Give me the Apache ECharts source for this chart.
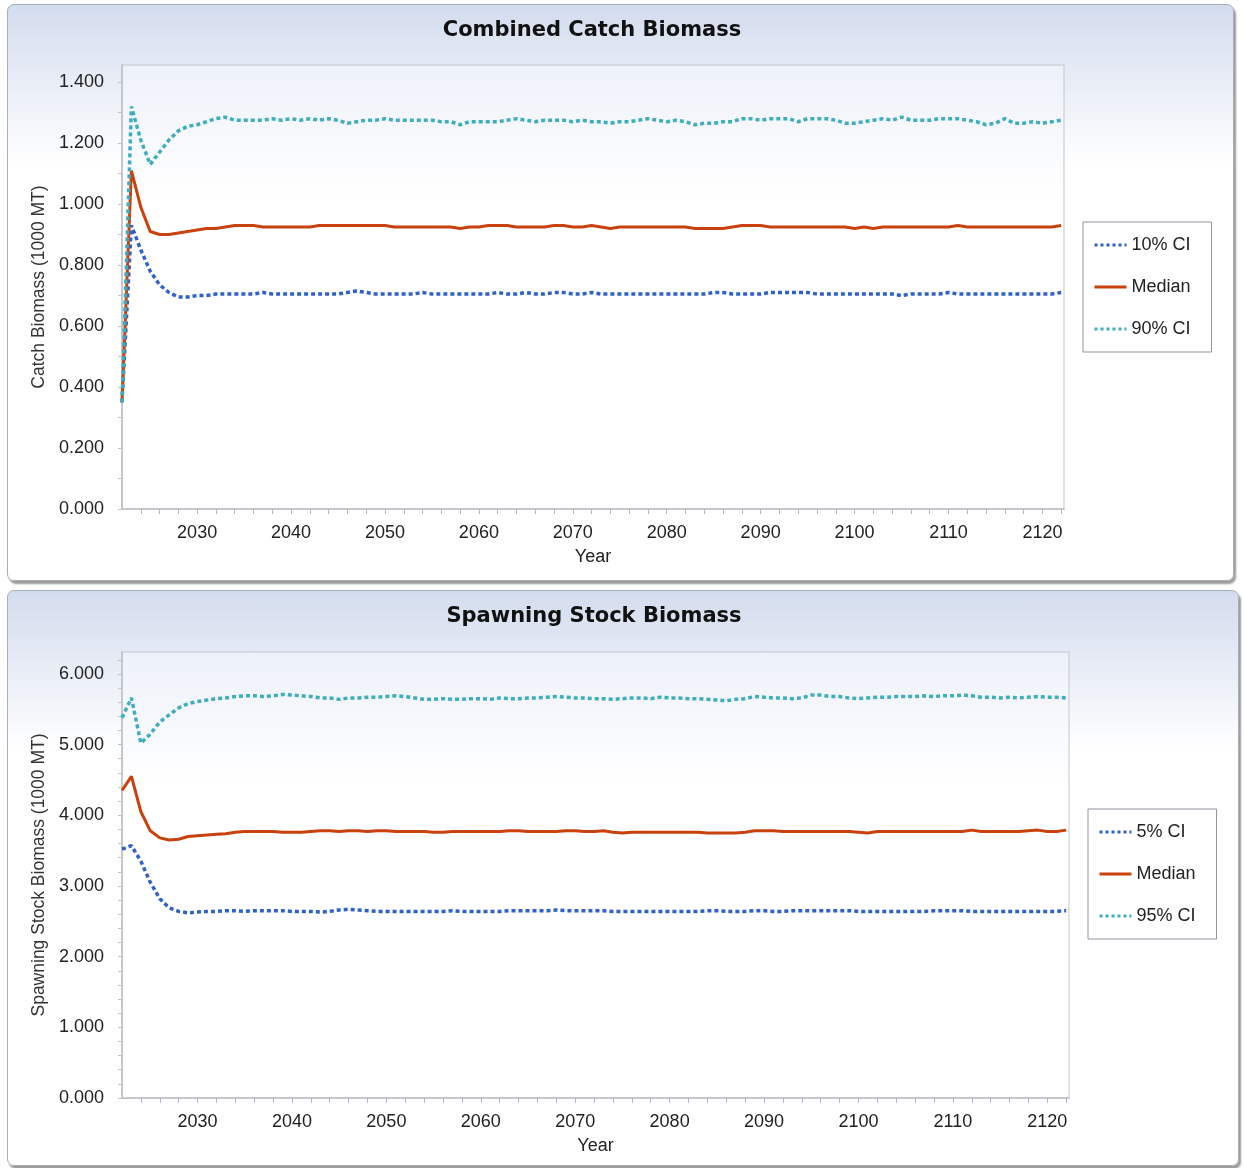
<!DOCTYPE html>
<html>
<head>
<meta charset="utf-8">
<script src="https://cdn.jsdelivr.net/npm/echarts@6/dist/echarts.min.js"></script>
<style>
  body { margin: 0; background: #fff; width: 1244px; height: 1168px; position: relative; overflow: hidden; }
  .panel {
    position: absolute;
    border: 1px solid #a9aeb6;
    border-radius: 7px;
    box-shadow: 2px 3px 2px #9a9a9a;
    background: linear-gradient(#d3dcee 0%, #ffffff 28%);
  }
  #catch { left: 7px; top: 4px; width: 1225px; height: 575px; }
  #ssb { left: 7px; top: 590px; width: 1230px; height: 574px; }
</style>
</head>
<body>
<div id="catch" class="panel"></div>
<div id="ssb" class="panel"></div>
<script>
// 年份 2022 - 2122
const years = [];
for (let y = 2022; y <= 2122; y++) years.push(y);

const yearLabels = [2030, 2040, 2050, 2060, 2070, 2080, 2090, 2100, 2110, 2120];
const yearTicks = [2024, 2026, 2028, 2030, 2032, 2034, 2036, 2038, 2040, 2042, 2044, 2046, 2048, 2050,
  2052, 2054, 2056, 2058, 2060, 2062, 2064, 2066, 2068, 2070, 2072, 2074, 2076, 2078, 2080,
  2082, 2084, 2086, 2088, 2090, 2092, 2094, 2096, 2098, 2100, 2102, 2104, 2106, 2108, 2110,
  2112, 2114, 2116, 2118, 2120, 2122];

const catchLabels = [0, 0.2, 0.4, 0.6, 0.8, 1.0, 1.2, 1.4];
const catchTicks = [0, 0.1, 0.2, 0.3, 0.4, 0.5, 0.6, 0.7, 0.8, 0.9, 1.0, 1.1, 1.2, 1.3, 1.4];
const ssbLabels = [0, 1, 2, 3, 4, 5, 6];
const ssbTicks = [0, 0.2, 0.4, 0.6, 0.8, 1, 1.2, 1.4, 1.6, 1.8, 2, 2.2, 2.4, 2.6, 2.8, 3, 3.2, 3.4, 3.6, 3.8,
  4, 4.2, 4.4, 4.6, 4.8, 5, 5.2, 5.4, 5.6, 5.8, 6, 6.2];

// Combined Catch Biomass
const catchLow = [
  0.35, 0.93, 0.85, 0.78, 0.735, 0.71, 0.695, 0.695, 0.70, 0.70,
  0.705, 0.705, 0.705, 0.705, 0.705, 0.71, 0.705, 0.705, 0.705, 0.705,
  0.705, 0.705, 0.705, 0.705, 0.71, 0.715, 0.71, 0.705, 0.705, 0.705,
  0.705, 0.705, 0.71, 0.705, 0.705, 0.705, 0.705, 0.705, 0.705, 0.705,
  0.71, 0.705, 0.705, 0.71, 0.705, 0.705, 0.71, 0.71, 0.705, 0.705,
  0.71, 0.705, 0.705, 0.705, 0.705, 0.705, 0.705, 0.705, 0.705, 0.705,
  0.705, 0.705, 0.705, 0.71, 0.71, 0.705, 0.705, 0.705, 0.705, 0.71,
  0.71, 0.71, 0.71, 0.71, 0.705, 0.705, 0.705, 0.705, 0.705, 0.705,
  0.705, 0.705, 0.705, 0.70, 0.705, 0.705, 0.705, 0.705, 0.71, 0.705,
  0.705, 0.705, 0.705, 0.705, 0.705, 0.705, 0.705, 0.705, 0.705, 0.705,
  0.71
];
const catchMedian = [
  0.35, 1.11, 0.99, 0.91, 0.90, 0.90, 0.905, 0.91, 0.915, 0.92,
  0.92, 0.925, 0.93, 0.93, 0.93, 0.925, 0.925, 0.925, 0.925, 0.925,
  0.925, 0.93, 0.93, 0.93, 0.93, 0.93, 0.93, 0.93, 0.93, 0.925,
  0.925, 0.925, 0.925, 0.925, 0.925, 0.925, 0.92, 0.925, 0.925, 0.93,
  0.93, 0.93, 0.925, 0.925, 0.925, 0.925, 0.93, 0.93, 0.925, 0.925,
  0.93, 0.925, 0.92, 0.925, 0.925, 0.925, 0.925, 0.925, 0.925, 0.925,
  0.925, 0.92, 0.92, 0.92, 0.92, 0.925, 0.93, 0.93, 0.93, 0.925,
  0.925, 0.925, 0.925, 0.925, 0.925, 0.925, 0.925, 0.925, 0.92, 0.925,
  0.92, 0.925, 0.925, 0.925, 0.925, 0.925, 0.925, 0.925, 0.925, 0.93,
  0.925, 0.925, 0.925, 0.925, 0.925, 0.925, 0.925, 0.925, 0.925, 0.925,
  0.93
];
const catchHigh = [
  0.35, 1.32, 1.21, 1.13, 1.17, 1.21, 1.24, 1.255, 1.26, 1.27,
  1.28, 1.285, 1.275, 1.275, 1.275, 1.275, 1.28, 1.275, 1.28, 1.275,
  1.28, 1.275, 1.28, 1.275, 1.265, 1.27, 1.275, 1.275, 1.28, 1.275,
  1.275, 1.275, 1.275, 1.275, 1.27, 1.27, 1.26, 1.27, 1.27, 1.27,
  1.27, 1.275, 1.28, 1.275, 1.27, 1.275, 1.275, 1.275, 1.27, 1.275,
  1.27, 1.27, 1.265, 1.27, 1.27, 1.275, 1.28, 1.275, 1.27, 1.275,
  1.27, 1.26, 1.265, 1.265, 1.27, 1.27, 1.28, 1.28, 1.275, 1.28,
  1.28, 1.28, 1.27, 1.28, 1.28, 1.28, 1.275, 1.265, 1.265, 1.27,
  1.275, 1.28, 1.275, 1.285, 1.275, 1.275, 1.275, 1.28, 1.28, 1.28,
  1.275, 1.27, 1.26, 1.265, 1.28, 1.265, 1.265, 1.27, 1.265, 1.27,
  1.275
];

// Spawning Stock Biomass
const ssbLow = [
  3.52, 3.57, 3.35, 3.05, 2.82, 2.69, 2.64, 2.62, 2.63, 2.64,
  2.64, 2.65, 2.65, 2.64, 2.65, 2.65, 2.65, 2.65, 2.64, 2.64,
  2.64, 2.63, 2.64, 2.66, 2.67, 2.66, 2.65, 2.64, 2.64, 2.64,
  2.64, 2.64, 2.64, 2.64, 2.64, 2.65, 2.64, 2.64, 2.64, 2.64,
  2.64, 2.65, 2.65, 2.65, 2.65, 2.65, 2.66, 2.65, 2.65, 2.65,
  2.65, 2.65, 2.64, 2.64, 2.64, 2.64, 2.64, 2.64, 2.64, 2.64,
  2.64, 2.64, 2.65, 2.65, 2.64, 2.64, 2.64, 2.65, 2.65, 2.64,
  2.64, 2.65, 2.65, 2.65, 2.65, 2.65, 2.65, 2.65, 2.64, 2.64,
  2.64, 2.64, 2.64, 2.64, 2.64, 2.64, 2.65, 2.65, 2.65, 2.65,
  2.64, 2.64, 2.64, 2.64, 2.64, 2.64, 2.64, 2.64, 2.64, 2.64,
  2.65
];
const ssbMedian = [
  4.35, 4.55, 4.05, 3.78, 3.68, 3.65, 3.66, 3.70, 3.71, 3.72,
  3.73, 3.74, 3.76, 3.77, 3.77, 3.77, 3.77, 3.76, 3.76, 3.76,
  3.77, 3.78, 3.78, 3.77, 3.78, 3.78, 3.77, 3.78, 3.78, 3.77,
  3.77, 3.77, 3.77, 3.76, 3.76, 3.77, 3.77, 3.77, 3.77, 3.77,
  3.77, 3.78, 3.78, 3.77, 3.77, 3.77, 3.77, 3.78, 3.78, 3.77,
  3.77, 3.78, 3.76, 3.75, 3.76, 3.76, 3.76, 3.76, 3.76, 3.76,
  3.76, 3.76, 3.75, 3.75, 3.75, 3.75, 3.76, 3.78, 3.78, 3.78,
  3.77, 3.77, 3.77, 3.77, 3.77, 3.77, 3.77, 3.77, 3.76, 3.75,
  3.77, 3.77, 3.77, 3.77, 3.77, 3.77, 3.77, 3.77, 3.77, 3.77,
  3.79, 3.77, 3.77, 3.77, 3.77, 3.77, 3.78, 3.79, 3.77, 3.77,
  3.79
];
const ssbHigh = [
  5.38, 5.66, 5.02, 5.15, 5.32, 5.42, 5.52, 5.58, 5.61, 5.63,
  5.65, 5.66, 5.68, 5.69, 5.69, 5.68, 5.69, 5.71, 5.70, 5.69,
  5.68, 5.66, 5.66, 5.64, 5.66, 5.66, 5.67, 5.67, 5.68, 5.69,
  5.68, 5.66, 5.64, 5.64, 5.65, 5.64, 5.64, 5.65, 5.65, 5.64,
  5.66, 5.65, 5.65, 5.66, 5.66, 5.67, 5.68, 5.67, 5.66, 5.66,
  5.65, 5.65, 5.64, 5.65, 5.66, 5.66, 5.65, 5.67, 5.66, 5.66,
  5.65, 5.65, 5.64, 5.63, 5.62, 5.64, 5.65, 5.68, 5.67, 5.66,
  5.66, 5.65, 5.66, 5.70, 5.70, 5.68, 5.68, 5.66, 5.65, 5.66,
  5.67, 5.67, 5.68, 5.68, 5.68, 5.69, 5.68, 5.69, 5.69, 5.70,
  5.69, 5.67, 5.67, 5.66, 5.67, 5.66, 5.67, 5.68, 5.67, 5.67,
  5.66
];

const FONT = '"Liberation Sans", Arial, sans-serif';
const COLOR_LOW = '#2f62c4';
const COLOR_MED = '#c9410d';
const COLOR_HIGH = '#3fadbf';
const DOTS = [4, 3];

function pairs(vals) {
    return years.map((y, i) => [y, vals[i]]);
}

function buildOption(cfg) {
    const dotted = (color) => ({ color: color, width: 3.5, type: DOTS });
    return {
        animation: false,
        textStyle: { fontFamily: FONT },
        title: {
            text: cfg.title,
            left: cfg.titleCenter,
            textAlign: 'center',
            top: 15,
            padding: 0,
            textStyle: { fontFamily: '"DejaVu Sans", sans-serif', fontSize: 21, fontWeight: 'bold', color: '#111' }
        },
        legend: {
            orient: 'vertical',
            left: cfg.legendLeft,
            top: cfg.legendTop,
            padding: [13, 21, 13, 10],
            itemGap: 22,
            itemWidth: 32,
            itemHeight: 20,
            borderColor: '#8f959e',
            borderWidth: 1,
            backgroundColor: '#fff',
            itemStyle: { opacity: 0 },
            lineStyle: { width: 3 },
            textStyle: { fontFamily: FONT, fontSize: 18, color: '#222', lineHeight: 20 },
            data: [
                { name: cfg.names[0], lineStyle: { width: 3, type: [3, 3] } },
                { name: cfg.names[1], lineStyle: { width: 3, type: 'solid' } },
                { name: cfg.names[2], lineStyle: { width: 3, type: [3, 3] } }
            ]
        },
        grid: {
            left: cfg.grid.left,
            top: cfg.grid.top,
            width: cfg.grid.width,
            height: cfg.grid.height,
            show: true,
            borderColor: '#c4c7cc',
            borderWidth: 1,
            backgroundColor: {
                type: 'linear', x: 0, y: 0, x2: 0, y2: 1,
                colorStops: [{ offset: 0, color: '#edf1f9' }, { offset: 0.3, color: '#ffffff' }]
            }
        },
        xAxis: {
            type: 'value',
            min: 2022,
            max: 2122.3,
            name: 'Year',
            nameLocation: 'middle',
            nameGap: 39,
            nameTextStyle: { fontFamily: FONT, fontSize: 18, color: '#222' },
            axisLine: { lineStyle: { color: '#c4c7cc', width: 2 } },
            axisTick: { show: true, length: 5, customValues: yearTicks, lineStyle: { color: '#b5b8bd' } },
            axisLabel: {
                customValues: yearLabels, margin: 15, fontSize: 18, color: '#222', fontFamily: FONT,
                formatter: (v) => String(v)
            },
            splitLine: { show: false }
        },
        yAxis: {
            type: 'value',
            min: 0,
            max: cfg.yMax,
            name: cfg.yName,
            nameLocation: 'middle',
            nameGap: 74,
            nameTextStyle: { fontFamily: FONT, fontSize: 17.5, color: '#333' },
            axisLine: { show: true, lineStyle: { color: '#c4c7cc', width: 2 } },
            axisTick: { show: true, length: 4, customValues: cfg.yTicks, lineStyle: { color: '#c0c3c8' } },
            axisLabel: {
                customValues: cfg.yLabels, margin: 18, fontSize: 18, color: '#222', fontFamily: FONT,
                formatter: (v) => v.toFixed(3)
            },
            splitLine: { show: false }
        },
        series: [
            { name: cfg.names[0], type: 'line', data: pairs(cfg.low), showSymbol: false, symbol: 'none', lineStyle: dotted(COLOR_LOW), itemStyle: { color: COLOR_LOW } },
            { name: cfg.names[1], type: 'line', data: pairs(cfg.med), showSymbol: false, symbol: 'none', lineStyle: { color: COLOR_MED, width: 3 }, itemStyle: { color: COLOR_MED }, z: 3 },
            { name: cfg.names[2], type: 'line', data: pairs(cfg.high), showSymbol: false, symbol: 'none', lineStyle: dotted(COLOR_HIGH), itemStyle: { color: COLOR_HIGH } }
        ]
    };
}

const catchChart = echarts.init(document.getElementById('catch'));
catchChart.setOption(buildOption({
    title: 'Combined Catch Biomass',
    titleCenter: 584,
    names: ['10% CI', 'Median', '90% CI'],
    legendLeft: 1075,
    legendTop: 217,
    grid: { left: 114, top: 60, width: 942, height: 444 },
    yMax: 1.456,
    yName: 'Catch Biomass (1000 MT)',
    yLabels: catchLabels,
    yTicks: catchTicks,
    low: catchLow, med: catchMedian, high: catchHigh
}));

const ssbChart = echarts.init(document.getElementById('ssb'));
ssbChart.setOption(buildOption({
    title: 'Spawning Stock Biomass',
    titleCenter: 586,
    names: ['5% CI', 'Median', '95% CI'],
    legendLeft: 1080,
    legendTop: 218,
    grid: { left: 114, top: 61, width: 947, height: 446 },
    yMax: 6.31,
    yName: 'Spawning Stock Biomass (1000 MT)',
    yLabels: ssbLabels,
    yTicks: ssbTicks,
    low: ssbLow, med: ssbMedian, high: ssbHigh
}));
</script>
</body>
</html>
